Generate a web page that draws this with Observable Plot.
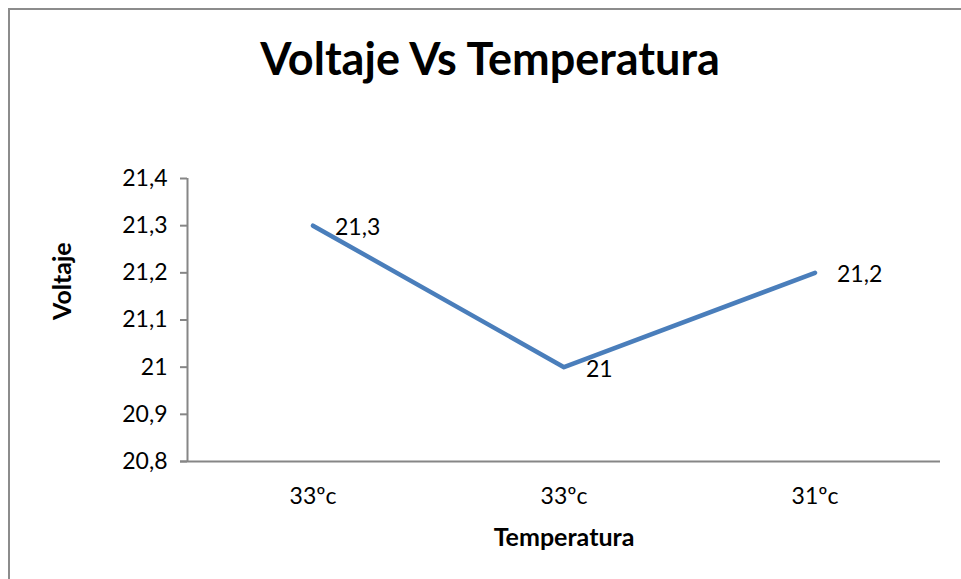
<!DOCTYPE html>
<html>
<head>
<meta charset="utf-8">
<script src="https://cdn.jsdelivr.net/npm/d3@7"></script>
<script src="https://cdn.jsdelivr.net/npm/@observablehq/plot@0.6"></script>
<style>
  html, body { margin: 0; padding: 0; background: #fff; }
  body { width: 961px; height: 579px; position: relative; overflow: hidden; font-family: Lato, "Open Sans", sans-serif; }
  #frame { position: absolute; left: 8px; top: 8px; width: 960px; height: 600px; border-left: 2px solid #8c8c8c; border-top: 2px solid #8c8c8c; box-sizing: border-box; }
  #title { position: absolute; left: 0; width: 980px; top: 28px; text-align: center; font-size: 45px; font-weight: bold; color: #000; line-height: 60px; }
  #chart { position: absolute; left: 0; top: 0; }
</style>
</head>
<body>
<div id="frame"></div>
<div id="title">Voltaje Vs Temperatura</div>
<div id="chart"></div>
<script>
const categories = ["33ºc", "33ºc", "31ºc"];
const voltages = [21.3, 21.0, 21.2];
const yTicks = [20.8, 20.9, 21.0, 21.1, 21.2, 21.3, 21.4];

const data = categories.map((c, i) => ({i, label: c, v: voltages[i]}));
const fmt = v => d3.format(".1~f")(v).replace(".", ",");

const plot = Plot.plot({
  width: 961,
  height: 579,
  marginLeft: 187,
  marginRight: 21,
  marginTop: 178,
  marginBottom: 118,
  style: { fontFamily: "Lato, 'Open Sans', sans-serif", background: "transparent", overflow: "visible" },
  x: { domain: [-0.5, 2.5] },
  y: { domain: [20.8, 21.4] },
  marks: [
    Plot.axisY({ ticks: yTicks, tickFormat: fmt, tickSize: 7, tickPadding: 13, stroke: "#868686", strokeWidth: 2, fill: "#000", fontSize: 23, label: null }),
    Plot.axisX({ ticks: [0, 1, 2], tickFormat: i => categories[i], tickSize: 0, tickPadding: 26, fill: "#000", fontSize: 23, label: null }),
    Plot.ruleX([-0.5], { stroke: "#868686", strokeWidth: 2 }),
    Plot.ruleY([20.8], { stroke: "#868686", strokeWidth: 2, x1: -0.5 - 7 * 3 / 753, x2: 2.5 }),
    Plot.line(data, { x: "i", y: "v", stroke: "#4a7ebb", strokeWidth: 4.5 }),
    Plot.text(data, { x: "i", y: "v", text: d => fmt(d.v), dx: 22, dy: 2, textAnchor: "start", fontSize: 23, fill: "#000" }),
    Plot.text(["Temperatura"], { frameAnchor: "bottom", dy: 84, text: d => d, fontSize: 25, fontWeight: "bold", fill: "#000" }),
    Plot.text(["Voltaje"], { frameAnchor: "left", dx: -125, rotate: -90, text: d => d, fontSize: 25, fontWeight: "bold", fill: "#000" })
  ]
});
document.getElementById("chart").appendChild(plot);
</script>
</body>
</html>
